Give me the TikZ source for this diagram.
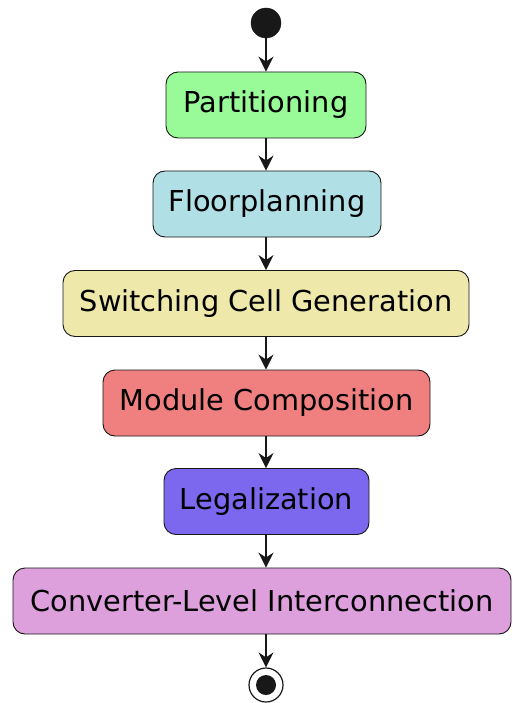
\documentclass[tikz,border=0pt]{standalone}
\usepackage{fontspec}
\setmainfont{DejaVu Sans}
\usetikzlibrary{arrows.meta}
\definecolor{cline}{HTML}{181818}
\definecolor{cA}{HTML}{98FB98}
\definecolor{cB}{HTML}{B0E0E6}
\definecolor{cC}{HTML}{EEE8AA}
\definecolor{cD}{HTML}{F08080}
\definecolor{cE}{HTML}{7B68EE}
\definecolor{cF}{HTML}{DDA0DD}
\tikzset{
  act/.style={draw=cline, line width=0.9pt, rounded corners=12pt, minimum height=66pt,
    inner sep=0pt, font=\fontsize{28.8}{34}\selectfont, text=black},
  flow/.style={draw=cline, line width=1.2pt, -{Stealth[length=15pt, width=15pt, inset=5pt]}}
}
\begin{document}
\begin{tikzpicture}[x=1pt, y=-1pt]
\useasboundingbox (0,0) rectangle (512,703);
\fill[white] (0,0) rectangle (512,703);
\node[circle, fill=cline, draw=cline, minimum size=30pt, inner sep=0pt] (start) at (266,23) {};
\node[act, fill=cA, minimum width=200pt] (p) at (266,105) {Partitioning};
\node[act, fill=cB, minimum width=228pt] (f) at (267,204) {Floorplanning};
\node[act, fill=cC, minimum width=406pt] (s) at (266,303.5) {Switching Cell Generation};
\node[act, fill=cD, minimum width=327pt] (m) at (266.5,403) {Module Composition};
\node[act, fill=cE, minimum width=205pt] (l) at (266.5,501.5) {Legalization};
\node[act, fill=cF, minimum width=498pt] (c) at (262,601) {Converter-Level Interconnection};
\node[circle, draw=cline, line width=1.2pt, fill=white, minimum size=34pt, inner sep=0pt] (end) at (266,685) {};
\fill[cline] (end.center) circle (10pt);
\draw[flow] (start) -- (start |- p.north);
\draw[flow] (p.south) -- (p |- f.north);
\draw[flow] (f.south -| p) -- (p |- s.north);
\draw[flow] (s.south -| p) -- (p |- m.north);
\draw[flow] (m.south -| p) -- (p |- l.north);
\draw[flow] (l.south -| p) -- (p |- c.north);
\draw[flow] (c.south -| p) -- (end);
\end{tikzpicture}
\end{document}
